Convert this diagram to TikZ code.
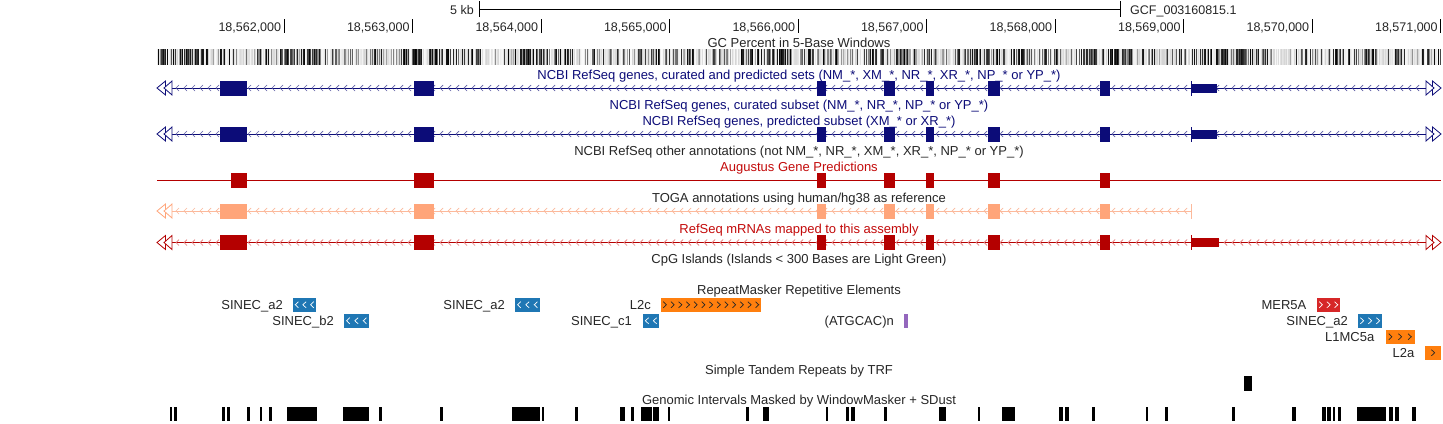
\documentclass[tikz,border=0pt]{standalone}
\usepackage{fontspec}
\setmainfont{Liberation Sans}
\definecolor{navy}{RGB}{12,12,120}
\definecolor{navyl}{RGB}{95,95,165}
\definecolor{gred}{RGB}{180,0,0}
\definecolor{gredl}{RGB}{228,120,120}
\definecolor{lblred}{RGB}{195,10,10}
\definecolor{toga}{RGB}{255,165,122}
\definecolor{togal}{RGB}{252,185,155}
\definecolor{rmblue}{RGB}{31,119,180}
\definecolor{rmorange}{RGB}{255,127,14}
\definecolor{rmred}{RGB}{214,39,40}
\definecolor{rmpurple}{RGB}{148,103,189}
\tikzset{
  lbl/.style={inner sep=0pt, anchor=base, font=\fontsize{13}{15}\selectfont, text=black!85},
  ticklbl/.style={lbl, anchor=base east, font=\fontsize{12.5}{15}\selectfont},
  rmlabel/.style={lbl, anchor=base east},
  navylbl/.style={lbl, text=navy},
  redlbl/.style={lbl, text=lblred},
  intron/.style={line width=1pt},
  chev/.style={line width=0.7pt},
  endarrow/.style={line width=0.8pt, fill=white, line join=miter},
  wm/.style={fill=black},
}
% chevron row: #1 y, #2 first x, #3 second x, #4 last x, #5 colour
\newcommand\chevrowL[5]{%
  \foreach \cx in {#2,#3,...,#4}{\draw[chev,#5] (\cx+3,#1-3) -- (\cx,#1) -- (\cx+3,#1+3);}}
% repeat box: #1 x1, #2 x2, #3 ytop, #4 fill, #5 chevron colour, #6 number, #7 direction (1 right, -1 left)
\newcommand\rmbox[7]{%
  \fill[#4] (#1,#3) rectangle (#2,#3+14.5);
  \pgfmathsetmacro\rms{(#2-#1)/#6}
  \foreach \ci in {1,...,#6}{%
    \pgfmathsetmacro\rcx{#1+\rms*(\ci-0.5)}
    \draw[line width=0.7pt,#5] (\rcx-1.6*#7,#3+4.2) -- (\rcx+1.6*#7,#3+7.25) -- (\rcx-1.6*#7,#3+10.3);}}
% double open arrow at a gene end: #1 colour, #2 tip x, #3 y, #4 direction (-1 points left, 1 points right)
\newcommand\genetips[4]{%
  \draw[#1,endarrow] (#2,#3) -- (#2-8.5*#4,#3-7) -- (#2-8.5*#4,#3+7) -- cycle;
  \draw[#1,endarrow] (#2-7*#4,#3) -- (#2-15*#4,#3-7) -- (#2-15*#4,#3+7) -- cycle;}
\begin{document}
\begin{tikzpicture}[x=1pt,y=-1pt]
\useasboundingbox (0,0) rectangle (1443,423);
\fill[white] (0,0) rectangle (1443,423);

% ---------- ruler ----------
\node[ticklbl] (kb) at (474,14) {5 kb};
\coordinate (sbL) at (479,9);
\coordinate (sbR) at (1120.5,9);
\draw[line width=1pt] (sbL) -- (sbR);
\draw[line width=1pt] (479,1) -- (479,17);
\draw[line width=1pt] (1120.5,1) -- (1120.5,17);
\node[ticklbl,anchor=base west] (gcf) at (1130,14) {GCF\_003160815.1};
\foreach \n in {562,...,571}{%
  \pgfmathsetmacro\tx{284.3+128.5*(\n-562)}
  \draw[line width=1pt] (\tx,19) -- (\tx,33);
  \node[ticklbl] (tick\n) at (\tx-3,31.7) {18,\n,000};
}

% ---------- GC percent ----------
\node[lbl] (gclbl) at (799,47.3) {GC Percent in 5-Base Windows};
\fill[black!14] (157,49) rectangle (1441,65);
\pgfmathsetseed{7}
\foreach \i in {0,...,1283}{%
  \pgfmathsetmacro\thr{0.25+0.15*sin(\i*3.1)+0.10*sin(\i*11.7)}
  \pgfmathsetmacro\rr{rnd}
  \pgfmathtruncatemacro\gg{ifthenelse(\rr<\thr,72+28*rnd,ifthenelse(\rr<\thr+0.2,30+40*rnd,2+16*rnd))}
  \fill[black!\gg] (157+\i,49) rectangle (158.05+\i,65);
}

% ---------- NCBI RefSeq all ----------
\node[navylbl] (t1lbl) at (799,79.5) {NCBI RefSeq genes, curated and predicted sets (NM\_*, XM\_*, NR\_*, XR\_*, NP\_* or YP\_*)};
\draw[intron,navy] (172,88) -- (1426,88);
\chevrowL{88}{176}{184}{1420}{navyl}
\foreach \a/\b in {220/247,414/434,817/826,884/895,926/934,988/1000,1100/1110}{\fill[navy] (\a,80.5) rectangle (\b,95.5);}
\fill[navy] (1191,84) rectangle (1217,93);
\draw[navy,line width=1pt] (1191,81) -- (1191,96);
\genetips{navy}{157}{88}{-1}
\genetips{navy}{1441}{88}{1}

% ---------- curated subset ----------
\node[navylbl] (t2lbl) at (799,109.5) {NCBI RefSeq genes, curated subset (NM\_*, NR\_*, NP\_* or YP\_*)};

% ---------- predicted subset ----------
\node[navylbl] (t3lbl) at (799,125.5) {NCBI RefSeq genes, predicted subset (XM\_* or XR\_*)};
\draw[intron,navy] (172,134) -- (1426,134);
\chevrowL{134}{176}{184}{1420}{navyl}
\foreach \a/\b in {220/247,414/434,817/826,884/895,926/934,988/1000,1100/1110}{\fill[navy] (\a,126.5) rectangle (\b,141.5);}
\fill[navy] (1191,130) rectangle (1217,139);
\draw[navy,line width=1pt] (1191,127) -- (1191,142);
\genetips{navy}{157}{134}{-1}
\genetips{navy}{1441}{134}{1}

% ---------- other annotations ----------
\node[lbl] (t4lbl) at (799,155.5) {NCBI RefSeq other annotations (not NM\_*, NR\_*, XM\_*, XR\_*, NP\_* or YP\_*)};

% ---------- Augustus ----------
\node[redlbl] (t5lbl) at (799,171) {Augustus Gene Predictions};
\draw[intron,gred] (157,180) -- (1441,180);
\foreach \a/\b in {231/247,414/434,817/826,884/895,926/934,988/1000,1100/1110}{\fill[gred] (\a,172.5) rectangle (\b,187.5);}

% ---------- TOGA ----------
\node[lbl] (t6lbl) at (799,202) {TOGA annotations using human/hg38 as reference};
\draw[intron,togal] (172,211) -- (1191,211);
\chevrowL{211}{176}{184}{1184}{togal}
\foreach \a/\b in {220/247,414/434,817/826,884/895,926/934,988/1000,1100/1110}{\fill[toga] (\a,203.5) rectangle (\b,218.5);}
\draw[togal,line width=1pt] (1191,204) -- (1191,219);
\genetips{toga}{157}{211}{-1}

% ---------- RefSeq mRNAs ----------
\node[redlbl] (t7lbl) at (799,233) {RefSeq mRNAs mapped to this assembly};
\draw[intron,gred] (172,242.5) -- (1426,242.5);
\chevrowL{242.5}{176}{184}{1420}{gredl}
\foreach \a/\b in {220/247,414/434,817/826,884/895,926/934,988/1000,1100/1110}{\fill[gred] (\a,235) rectangle (\b,250);}
\fill[gred] (1191,238) rectangle (1219,246.5);
\draw[gred,line width=1pt] (1191,235) -- (1191,250);
\genetips{gred}{157}{242.5}{-1}
\genetips{gred}{1441}{242.5}{1}

% ---------- CpG ----------
\node[lbl] (t8lbl) at (799,263.5) {CpG Islands (Islands < 300 Bases are Light Green)};

% ---------- RepeatMasker ----------
\node[lbl] (rmlbl) at (799,294.5) {RepeatMasker Repetitive Elements};
\rmbox{293}{316}{297.5}{rmblue}{white}{3}{-1}
\node[rmlabel] (r1) at (283,309) {SINEC\_a2};
\rmbox{344}{369}{313.5}{rmblue}{white}{3}{-1}
\node[rmlabel] (r2) at (334,325) {SINEC\_b2};
\rmbox{515}{540}{297.5}{rmblue}{white}{3}{-1}
\node[rmlabel] (r3) at (505,309) {SINEC\_a2};
\rmbox{661}{761}{297.5}{rmorange}{black!85}{13}{1}
\node[rmlabel] (r4) at (651,309) {L2c};
\rmbox{643}{659}{313.5}{rmblue}{white}{2}{-1}
\node[rmlabel] (r5) at (632,325) {SINEC\_c1};
\fill[rmpurple] (903.5,313.5) rectangle (908,328);
\node[rmlabel] (r6) at (894,325) {(ATGCAC)n};
\rmbox{1317}{1340}{297.5}{rmred}{white}{3}{1}
\node[rmlabel] (r7) at (1306.5,309) {MER5A};
\rmbox{1358}{1382}{313.5}{rmblue}{white}{3}{1}
\node[rmlabel] (r8) at (1348,325) {SINEC\_a2};
\rmbox{1385.5}{1414.5}{329.5}{rmorange}{black!85}{3}{1}
\node[rmlabel] (r9) at (1374.5,341) {L1MC5a};
\rmbox{1425}{1441}{345.5}{rmorange}{black!85}{1}{1}
\node[rmlabel] (r10) at (1414.5,357) {L2a};

% ---------- TRF ----------
\node[lbl] (trflbl) at (799,374) {Simple Tandem Repeats by TRF};
\fill[black] (1244,376) rectangle (1252,391);

% ---------- WindowMasker ----------
\node[lbl] (wmlbl) at (799,404.5) {Genomic Intervals Masked by WindowMasker + SDust};
\foreach \a/\b in {170/172.3,174.3/176.7,222/224.7,227.3/230,247/250.3,260/262,269/271.7,287/316.7,343/368.7,379/382.3,440/443,512/540,542/544,575/577.7,620/625,631/633.7,641/652.3,653.3/659,668.3/669.7,746/749.3,763.3/768.7,826/828.3,846/849,851/855.3,884.4/887.4,939/945.7,977.5/980.4,1002/1014.7,1059/1062.5,1065.4/1069.2,1091.6/1095,1146/1148.3,1164.8/1167.7,1231.6/1235,1291.6/1295.8,1322/1325.5,1326.7/1330.5,1332.7/1334.8,1337.7/1341,1357/1386,1389/1393,1395/1398.6,1412/1415.5}{\fill[wm] (\a,407) rectangle (\b,421);}
\end{tikzpicture}
\end{document}
